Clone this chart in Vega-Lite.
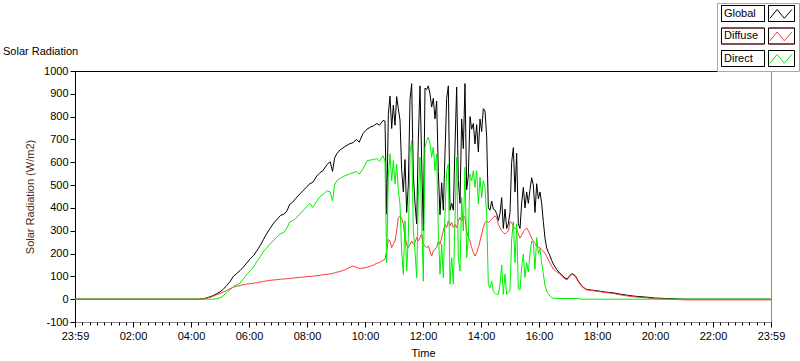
{
"$schema":"https://vega.github.io/schema/vega-lite/v6.json",
"width":696,"height":251,
"autosize":{"type":"none"},
"padding":{"left":75,"top":71,"right":29,"bottom":39},
"background":"white",
"config":{"view":{"stroke":"#8c8c8c","strokeWidth":1},"font":"Liberation Sans, Arial, sans-serif"},
"title":{"text":"Solar Radiation","anchor":"start","frame":"group","dx":-72,"offset":-63,"baseline":"alphabetic","fontSize":11,"fontWeight":"normal","color":"black","font":"Liberation Sans, Arial, sans-serif"},
"data":{"values":[
{"t":0,"Global":0,"Diffuse":0,"Direct":0},{"t":4.2,"Global":0,"Diffuse":0,"Direct":0},{"t":4.43,"Global":2,"Diffuse":1,"Direct":0},{"t":4.6,"Global":8,"Diffuse":6,"Direct":0},{"t":4.75,"Global":15,"Diffuse":12,"Direct":0},{"t":4.89,"Global":24,"Diffuse":20,"Direct":2},{"t":5.0,"Global":32,"Diffuse":25,"Direct":6},{"t":5.11,"Global":43,"Diffuse":31,"Direct":14},{"t":5.23,"Global":60,"Diffuse":38,"Direct":30},{"t":5.34,"Global":76,"Diffuse":46,"Direct":40},{"t":5.46,"Global":100,"Diffuse":52,"Direct":56},{"t":5.57,"Global":112,"Diffuse":56,"Direct":62},{"t":5.69,"Global":125,"Diffuse":60,"Direct":70},{"t":5.8,"Global":140,"Diffuse":63,"Direct":88},{"t":5.92,"Global":158,"Diffuse":66,"Direct":108},{"t":6.05,"Global":178,"Diffuse":68,"Direct":126},{"t":6.15,"Global":190,"Diffuse":70,"Direct":140},{"t":6.26,"Global":210,"Diffuse":72,"Direct":163},{"t":6.4,"Global":238,"Diffuse":75,"Direct":188},{"t":6.5,"Global":262,"Diffuse":78,"Direct":210},{"t":6.6,"Global":285,"Diffuse":80,"Direct":222},{"t":6.7,"Global":305,"Diffuse":82,"Direct":238},{"t":6.83,"Global":330,"Diffuse":84,"Direct":255},{"t":7.0,"Global":355,"Diffuse":86,"Direct":277},{"t":7.1,"Global":368,"Diffuse":88,"Direct":288},{"t":7.2,"Global":372,"Diffuse":88,"Direct":292},{"t":7.31,"Global":387,"Diffuse":90,"Direct":312},{"t":7.4,"Global":415,"Diffuse":91,"Direct":338},{"t":7.5,"Global":424,"Diffuse":92,"Direct":344},{"t":7.6,"Global":440,"Diffuse":94,"Direct":352},{"t":7.76,"Global":462,"Diffuse":96,"Direct":374},{"t":7.9,"Global":480,"Diffuse":97,"Direct":393},{"t":8.0,"Global":494,"Diffuse":99,"Direct":408},{"t":8.1,"Global":506,"Diffuse":100,"Direct":420},{"t":8.2,"Global":512,"Diffuse":101,"Direct":402},{"t":8.34,"Global":540,"Diffuse":103,"Direct":431},{"t":8.45,"Global":555,"Diffuse":105,"Direct":450},{"t":8.55,"Global":563,"Diffuse":107,"Direct":458},{"t":8.69,"Global":590,"Diffuse":109,"Direct":475},{"t":8.8,"Global":602,"Diffuse":111,"Direct":470},{"t":8.88,"Global":560,"Diffuse":113,"Direct":430},{"t":8.95,"Global":618,"Diffuse":115,"Direct":500},{"t":9.03,"Global":638,"Diffuse":118,"Direct":519},{"t":9.15,"Global":655,"Diffuse":122,"Direct":530},{"t":9.3,"Global":668,"Diffuse":128,"Direct":540},{"t":9.45,"Global":680,"Diffuse":138,"Direct":548},{"t":9.59,"Global":686,"Diffuse":145,"Direct":554},{"t":9.7,"Global":700,"Diffuse":140,"Direct":560},{"t":9.8,"Global":688,"Diffuse":135,"Direct":548},{"t":9.93,"Global":726,"Diffuse":136,"Direct":570},{"t":10.07,"Global":745,"Diffuse":140,"Direct":607},{"t":10.2,"Global":755,"Diffuse":145,"Direct":610},{"t":10.3,"Global":760,"Diffuse":150,"Direct":612},{"t":10.41,"Global":770,"Diffuse":158,"Direct":616},{"t":10.5,"Global":762,"Diffuse":160,"Direct":604},{"t":10.62,"Global":783,"Diffuse":170,"Direct":629},
{"t":10.69,"Global":780,"Diffuse":175,"Direct":605},{"t":10.747,"Global":372,"Diffuse":211,"Direct":160},{"t":10.805,"Global":810,"Diffuse":262,"Direct":545},{"t":10.862,"Global":890,"Diffuse":255,"Direct":637},{"t":10.92,"Global":748,"Diffuse":226,"Direct":519},{"t":10.977,"Global":850,"Diffuse":241,"Direct":607},{"t":11.034,"Global":762,"Diffuse":255,"Direct":505},{"t":11.092,"Global":888,"Diffuse":299,"Direct":592},{"t":11.149,"Global":835,"Diffuse":358,"Direct":475},{"t":11.207,"Global":785,"Diffuse":365,"Direct":417},{"t":11.264,"Global":568,"Diffuse":358,"Direct":211},{"t":11.322,"Global":470,"Diffuse":328,"Direct":109},{"t":11.379,"Global":612,"Diffuse":270,"Direct":343},{"t":11.437,"Global":380,"Diffuse":241,"Direct":123},{"t":11.494,"Global":500,"Diffuse":226,"Direct":270},{"t":11.552,"Global":875,"Diffuse":241,"Direct":637},{"t":11.609,"Global":945,"Diffuse":255,"Direct":695},{"t":11.667,"Global":545,"Diffuse":241,"Direct":299},{"t":11.724,"Global":420,"Diffuse":248,"Direct":211},{"t":11.782,"Global":330,"Diffuse":270,"Direct":94},{"t":11.839,"Global":700,"Diffuse":255,"Direct":446},{"t":11.897,"Global":935,"Diffuse":270,"Direct":622},{"t":11.954,"Global":610,"Diffuse":285,"Direct":343},{"t":12.011,"Global":300,"Diffuse":241,"Direct":79},{"t":12.069,"Global":925,"Diffuse":233,"Direct":666},{"t":12.126,"Global":918,"Diffuse":226,"Direct":695},{"t":12.184,"Global":935,"Diffuse":233,"Direct":710},{"t":12.241,"Global":900,"Diffuse":211,"Direct":680},{"t":12.299,"Global":842,"Diffuse":189,"Direct":622},{"t":12.356,"Global":880,"Diffuse":211,"Direct":666},{"t":12.414,"Global":790,"Diffuse":220,"Direct":563},{"t":12.471,"Global":868,"Diffuse":226,"Direct":637},{"t":12.529,"Global":560,"Diffuse":255,"Direct":299},{"t":12.586,"Global":370,"Diffuse":241,"Direct":109},{"t":12.644,"Global":510,"Diffuse":270,"Direct":241},{"t":12.701,"Global":390,"Diffuse":299,"Direct":94},{"t":12.759,"Global":640,"Diffuse":328,"Direct":373},{"t":12.816,"Global":880,"Diffuse":314,"Direct":563},{"t":12.874,"Global":935,"Diffuse":343,"Direct":592},{"t":12.931,"Global":390,"Diffuse":321,"Direct":65},{"t":12.989,"Global":420,"Diffuse":336,"Direct":182},{"t":13.046,"Global":390,"Diffuse":314,"Direct":65},{"t":13.103,"Global":670,"Diffuse":328,"Direct":343},{"t":13.161,"Global":930,"Diffuse":314,"Direct":622},{"t":13.218,"Global":520,"Diffuse":343,"Direct":182},{"t":13.276,"Global":420,"Diffuse":358,"Direct":123},{"t":13.333,"Global":790,"Diffuse":343,"Direct":446},{"t":13.391,"Global":660,"Diffuse":365,"Direct":299},{"t":13.448,"Global":945,"Diffuse":358,"Direct":578},{"t":13.506,"Global":480,"Diffuse":299,"Direct":182},{"t":13.563,"Global":540,"Diffuse":270,"Direct":270},{"t":13.621,"Global":800,"Diffuse":255,"Direct":548},{"t":13.678,"Global":745,"Diffuse":226,"Direct":519},{"t":13.736,"Global":770,"Diffuse":204,"Direct":563},{"t":13.793,"Global":680,"Diffuse":189,"Direct":490},{"t":13.851,"Global":765,"Diffuse":204,"Direct":563},{"t":13.908,"Global":645,"Diffuse":226,"Direct":417},{"t":13.966,"Global":790,"Diffuse":255,"Direct":534},{"t":14.023,"Global":735,"Diffuse":285,"Direct":446},{"t":14.08,"Global":835,"Diffuse":314,"Direct":519},{"t":14.138,"Global":825,"Diffuse":336,"Direct":490},{"t":14.195,"Global":715,"Diffuse":343,"Direct":373},{"t":14.253,"Global":400,"Diffuse":336,"Direct":65},{"t":14.31,"Global":390,"Diffuse":343,"Direct":50},{"t":14.368,"Global":430,"Diffuse":350,"Direct":79},{"t":14.425,"Global":395,"Diffuse":358,"Direct":35},{"t":14.483,"Global":390,"Diffuse":365,"Direct":25},{"t":14.54,"Global":375,"Diffuse":358,"Direct":21},{"t":14.598,"Global":345,"Diffuse":328,"Direct":21},{"t":14.655,"Global":375,"Diffuse":314,"Direct":65},{"t":14.713,"Global":445,"Diffuse":299,"Direct":150},{"t":14.77,"Global":310,"Diffuse":292,"Direct":21},{"t":14.828,"Global":395,"Diffuse":285,"Direct":109},{"t":14.885,"Global":310,"Diffuse":292,"Direct":21},{"t":14.943,"Global":330,"Diffuse":300,"Direct":30},
{"t":15.0,"Global":380,"Diffuse":340,"Direct":40},{"t":15.057,"Global":600,"Diffuse":335,"Direct":260},{"t":15.115,"Global":664,"Diffuse":320,"Direct":340},{"t":15.172,"Global":470,"Diffuse":310,"Direct":160},{"t":15.23,"Global":640,"Diffuse":308,"Direct":330},{"t":15.287,"Global":330,"Diffuse":285,"Direct":45},{"t":15.345,"Global":310,"Diffuse":268,"Direct":40},{"t":15.402,"Global":420,"Diffuse":280,"Direct":140},{"t":15.46,"Global":490,"Diffuse":295,"Direct":198},{"t":15.517,"Global":400,"Diffuse":305,"Direct":95},{"t":15.575,"Global":470,"Diffuse":312,"Direct":160},{"t":15.632,"Global":420,"Diffuse":300,"Direct":120},{"t":15.69,"Global":480,"Diffuse":285,"Direct":198},{"t":15.747,"Global":532,"Diffuse":268,"Direct":255},{"t":15.805,"Global":500,"Diffuse":255,"Direct":245},{"t":15.862,"Global":380,"Diffuse":245,"Direct":130},{"t":15.92,"Global":506,"Diffuse":233,"Direct":270},{"t":15.977,"Global":440,"Diffuse":228,"Direct":200},{"t":16.034,"Global":470,"Diffuse":224,"Direct":220},{"t":16.092,"Global":420,"Diffuse":218,"Direct":160},{"t":16.149,"Global":340,"Diffuse":211,"Direct":110},{"t":16.207,"Global":268,"Diffuse":200,"Direct":60},{"t":16.264,"Global":224,"Diffuse":189,"Direct":35},{"t":16.322,"Global":205,"Diffuse":172,"Direct":25},{"t":16.379,"Global":190,"Diffuse":158,"Direct":13},{"t":16.437,"Global":170,"Diffuse":145,"Direct":6},{"t":16.494,"Global":154,"Diffuse":132,"Direct":4},{"t":16.609,"Global":130,"Diffuse":120,"Direct":3},{"t":16.72,"Global":114,"Diffuse":110,"Direct":3},{"t":16.9,"Global":92,"Diffuse":88,"Direct":3},{"t":16.98,"Global":90,"Diffuse":86,"Direct":3},{"t":17.069,"Global":105,"Diffuse":102,"Direct":3},
{"t":17.15,"Global":112,"Diffuse":109,"Direct":3},{"t":17.25,"Global":103,"Diffuse":100,"Direct":3},{"t":17.36,"Global":79,"Diffuse":76,"Direct":2},{"t":17.45,"Global":62,"Diffuse":59,"Direct":1},{"t":17.55,"Global":50,"Diffuse":48,"Direct":0},{"t":17.64,"Global":43,"Diffuse":41,"Direct":0},{"t":17.8,"Global":40,"Diffuse":38,"Direct":0},{"t":18.1,"Global":35,"Diffuse":33,"Direct":0},{"t":18.3,"Global":31,"Diffuse":29,"Direct":0},{"t":18.56,"Global":28,"Diffuse":25,"Direct":0},{"t":18.8,"Global":22,"Diffuse":19,"Direct":0},{"t":19.0,"Global":18,"Diffuse":15,"Direct":0},{"t":19.3,"Global":13,"Diffuse":10,"Direct":0},{"t":19.7,"Global":9,"Diffuse":6,"Direct":0},{"t":20.0,"Global":5,"Diffuse":2,"Direct":0},{"t":20.4,"Global":3,"Diffuse":0,"Direct":0},{"t":20.8,"Global":1,"Diffuse":-2,"Direct":0},{"t":21.1,"Global":0,"Diffuse":-3,"Direct":0},{"t":24,"Global":0,"Diffuse":-3,"Direct":0}
]},
"layer":[
{"transform":[{"fold":["Global","Diffuse","Direct"],"as":["series","value"]}],
 "mark":{"type":"line","strokeWidth":1},
 "encoding":{
  "x":{"field":"t","type":"quantitative","scale":{"domain":[0,24],"nice":false,"zero":false},
   "axis":{"orient":"bottom","values":[0,2,4,6,8,10,12,14,16,18,20,22,24],"labelExpr":"datum.value==0||datum.value==24?'23:59':(datum.value<10?'0':'')+datum.value+':00'","domain":false,"grid":false,"tickSize":5,"tickColor":"black","labelFont":"Liberation Sans, Arial, sans-serif","labelFontSize":11,"labelColor":"black","labelPadding":3,"labelFlush":false,"labelOverlap":false,"title":"Time","titleFont":"Liberation Sans, Arial, sans-serif","titleFontSize":11,"titleFontWeight":"normal","titleColor":"black","titlePadding":6}},
  "y":{"field":"value","type":"quantitative","scale":{"domain":[-100,1000],"nice":false,"zero":false},
   "axis":{"values":[-100,0,100,200,300,400,500,600,700,800,900,1000],"labelExpr":"datum.value+''","domainColor":"black","tickColor":"black","tickSize":5,"labelPadding":2,"grid":false,"labelFont":"Liberation Sans, Arial, sans-serif","labelFontSize":11,"labelColor":"black","title":"Solar Radiation (W/m2)","titleFont":"Liberation Sans, Arial, sans-serif","titleFontSize":11,"titleFontWeight":"normal","titleColor":"#4a2c12","titlePadding":8}},
  "color":{"field":"series","type":"nominal","scale":{"domain":["Global","Diffuse","Direct"],"range":["#000000","#ff3838","#00f000"]},
   "legend":{"orient":"none","legendX":642,"legendY":-68,"title":null,"direction":"vertical","padding":2,"fillColor":"white","strokeColor":"#a8a8a8","symbolType":"M-1.45,0.6L-0.55,-0.5L0.35,0.6L1.3,-0.5M-7.5,-1H-2.125V1H-7.5Z M-1.625,-1H1.625V1H-1.625Z","symbolSize":256,"symbolStrokeWidth":1,"symbolFillColor":"transparent","symbolOffset":54,"labelOffset":-66,"rowPadding":1.5,"labelFont":"Liberation Sans, Arial, sans-serif","labelFontSize":11,"labelColor":"black","labelBaseline":"middle"}}}},
{"mark":{"type":"point","opacity":0},
 "encoding":{"x":{"field":"t","type":"quantitative","axis":{"orient":"bottom","values":[0,0.25,0.5,0.75,1,1.25,1.5,1.75,2,2.25,2.5,2.75,3,3.25,3.5,3.75,4,4.25,4.5,4.75,5,5.25,5.5,5.75,6,6.25,6.5,6.75,7,7.25,7.5,7.75,8,8.25,8.5,8.75,9,9.25,9.5,9.75,10,10.25,10.5,10.75,11,11.25,11.5,11.75,12,12.25,12.5,12.75,13,13.25,13.5,13.75,14,14.25,14.5,14.75,15,15.25,15.5,15.75,16,16.25,16.5,16.75,17,17.25,17.5,17.75,18,18.25,18.5,18.75,19,19.25,19.5,19.75,20,20.25,20.5,20.75,21,21.25,21.5,21.75,22,22.25,22.5,22.75,23,23.25,23.5,23.75,24],"labels":false,"domain":false,"grid":false,"tickSize":3,"tickColor":"black","title":null}}}},
{"mark":{"type":"point","opacity":0},
 "encoding":{"x":{"field":"t","type":"quantitative","axis":{"orient":"top","domain":true,"domainColor":"black","ticks":false,"labels":false,"grid":false,"title":null}}}},
{"data":{"values":[{"k":"Global "},{"k":"Diffuse "},{"k":"Direct "}]},
 "mark":{"type":"point","opacity":0,"filled":false},
 "encoding":{"shape":{"field":"k","type":"nominal","scale":{"domain":["Global ","Diffuse ","Direct "],"range":["M-7.5,-1H-2.125V1H-7.5Z M-1.625,-1H1.625V1H-1.625Z","M-7.5,-1H-2.125V1H-7.5Z M-1.625,-1H1.625V1H-1.625Z","M-7.5,-1H-2.125V1H-7.5Z M-1.625,-1H1.625V1H-1.625Z"]},
  "legend":{"orient":"none","legendX":644,"legendY":-66,"title":null,"direction":"vertical","padding":0,"symbolSize":256,"symbolStrokeWidth":1,"symbolStrokeColor":"black","symbolFillColor":"transparent","symbolOffset":54,"labelOffset":-66,"rowPadding":1.5,"labelFont":"Liberation Sans, Arial, sans-serif","labelFontSize":11,"labelOpacity":0,"labelBaseline":"middle"}}}}
],
"resolve":{"axis":{"x":"independent"}}
}
